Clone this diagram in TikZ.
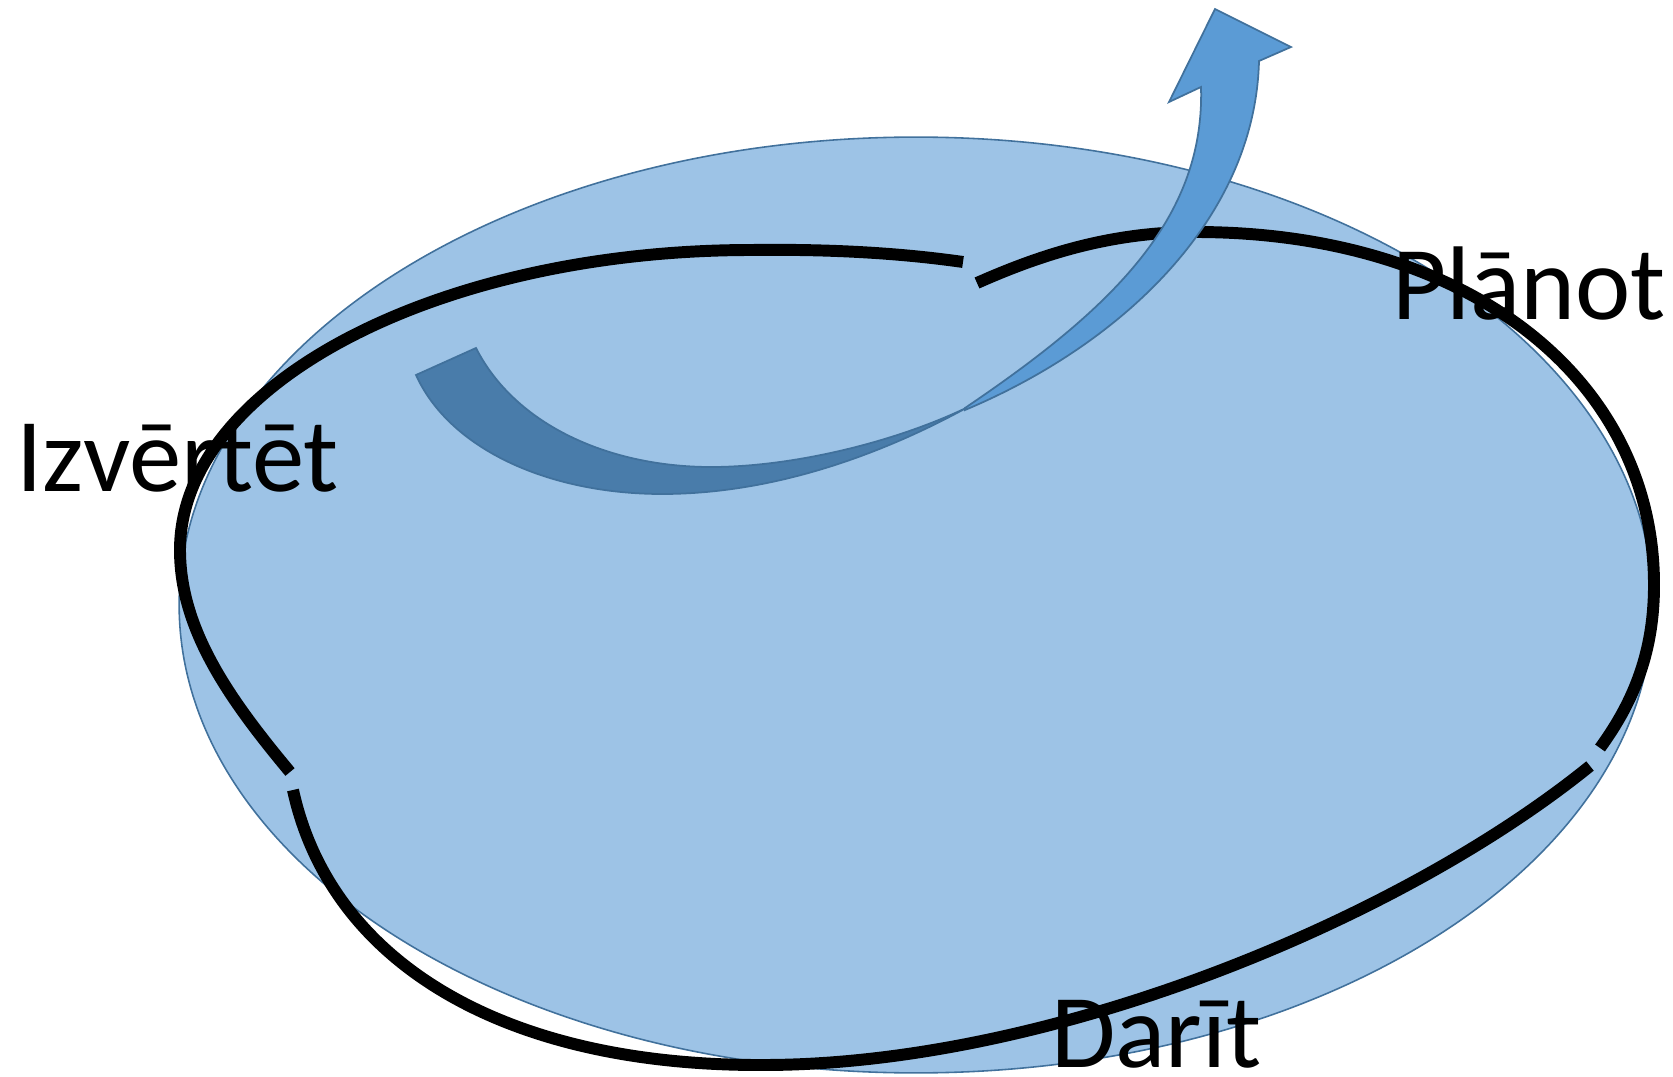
\documentclass[tikz,border=0pt]{standalone}
\usepackage{fontspec}
\setmainfont{Carlito}
\usepackage{xcolor}
\usepackage{tikz}
\usetikzlibrary{positioning, calc}
\definecolor{ovalfill}{HTML}{9DC3E6}
\definecolor{ovalborder}{HTML}{41719C}
\definecolor{arrowblue}{HTML}{5B9BD5}
\definecolor{arrowshade}{HTML}{497CAA}

\tikzset{
  cycleline/.style={line width=6.8pt, draw=black},
  arrowpart/.style={draw=ovalborder, line width=1pt, line join=miter},
  stagelabel/.style={anchor=base west, inner sep=0pt, font=\fontsize{59.6}{62}\selectfont},
}

\begin{document}
\begin{tikzpicture}[x=0.02cm, y=-0.02cm]
    \useasboundingbox (0,0) rectangle (1673,1077);
    \draw[fill=ovalfill, draw=ovalborder, line width=0.9pt]
      (916,605) ellipse [x radius=14.74cm, y radius=9.36cm];

    \draw[cycleline] (963,262) .. controls (900,253) and (830,249) .. (752,250)
      .. controls (437,250) and (180,385) .. (180,550)
      .. controls (180,630) and (230,700) .. (290,772);
    \draw[cycleline] (293,790) .. controls (330,960) and (500,1066) .. (763,1065)
      .. controls (1050,1065) and (1400,920) .. (1590,766);
    \draw[cycleline] (977,283) .. controls (1040,255) and (1110,232) .. (1195,232)
      .. controls (1470,232) and (1654,380) .. (1654,585)
      .. controls (1654,650) and (1635,700) .. (1600,748);

    \draw[arrowpart, fill=arrowshade] (416,375) -- (476,348)
      .. controls (515,425) and (610,468) .. (715,467)
      .. controls (800,466) and (900,440) .. (968,407)
      .. controls (890,450) and (780,494) .. (662,494)
      .. controls (550,494) and (450,450) .. (416,375) -- cycle;
    \draw[arrowpart, fill=arrowblue] (965,408) .. controls (1110,310) and (1205,220) .. (1201,87)
      -- (1169,102) -- (1215,9) -- (1291,47) -- (1259,61)
      .. controls (1255,220) and (1120,345) .. (965,410) -- cycle;

    \node[stagelabel] (planot) at (1392,320) {Plānot};
    \node[stagelabel] (izvertet) at (16,492) {Izvērtēt};
    \node[stagelabel] (darit) at (1051,1067) {Darīt};
\end{tikzpicture}
\end{document}
